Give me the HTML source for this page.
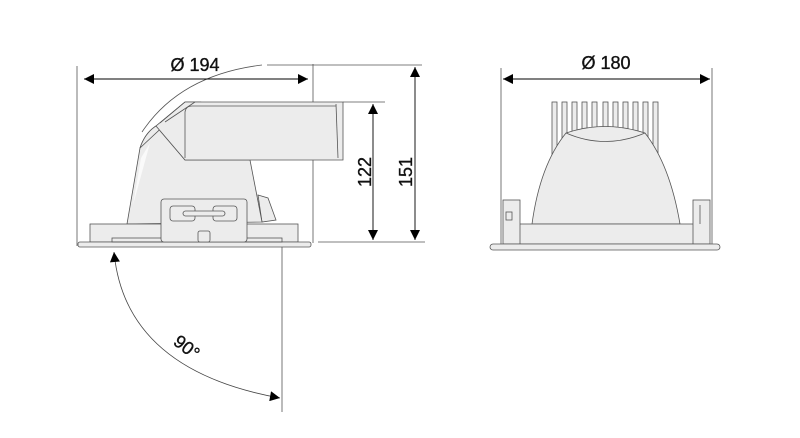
<!DOCTYPE html>
<html><head><meta charset="utf-8"><style>
html,body{margin:0;padding:0;background:#fff;}
svg{display:block;}
text{font-family:"Liberation Sans",sans-serif;font-size:18px;fill:#111;stroke:#111;stroke-width:0.35;}
</style></head><body>
<svg width="800" height="438" viewBox="0 0 800 438" xmlns="http://www.w3.org/2000/svg">
<defs>
<marker id="a" viewBox="0 0 10 10" refX="10" refY="5" markerWidth="15" markerHeight="10" markerUnits="userSpaceOnUse" orient="auto-start-reverse"><path d="M0,0L10,5L0,10z" fill="#000"/></marker>
</defs>
<g stroke="#555" stroke-width="0.8" fill="none">
<line x1="77" y1="66" x2="77" y2="246"/>
<line x1="313" y1="64" x2="313" y2="243"/>
<line x1="267" y1="65" x2="422" y2="65"/>
<line x1="343" y1="102" x2="385" y2="102"/>
<line x1="318" y1="242" x2="425" y2="242"/>
<line x1="282" y1="238" x2="282" y2="412"/>
</g>
<g fill="#ececec" stroke="#555" stroke-width="0.8">
<path d="M258,195 L268,198 L276,220 L262,222 Z"/>
<path d="M127,224 L140,148 Q145,133 156,126 L185,160 L250,160 L262,222 Z"/>
<path d="M140,148 Q145,133 156,126 L185,102 L200,102 L170,120 Z"/>
<path d="M156,126 L185,102 L343,102 L343,160 L185,160 Z"/>
<path d="M185,158 L185,112 Q186,106 192,106 L336,106" fill="none"/>
<line x1="160" y1="123" x2="185" y2="102"/>
<line x1="165" y1="122" x2="195" y2="102"/>
<path d="M336,104 L338,158" fill="none"/>
<rect x="90" y="224" width="208" height="18"/>
<rect x="78" y="242" width="233" height="5" rx="2"/>
<rect x="112" y="238" width="170" height="4" fill="none"/>
<rect x="161" y="199" width="86" height="43" rx="3"/>
<rect x="170" y="206" width="25" height="15" rx="3"/>
<rect x="213" y="206" width="24" height="15" rx="3"/>
<rect x="183" y="211" width="42" height="5" rx="2.5"/>
<rect x="198" y="231" width="12" height="11" rx="2"/>
</g>
<path d="M262,65 Q180,75 142,132" stroke="#555" stroke-width="0.8" fill="none"/>
<path d="M141,158 L150,143 L133,205 Z" fill="#fafafa"/>
<g stroke="#000" stroke-width="0.9">
<line x1="84" y1="79" x2="308" y2="79" marker-start="url(#a)" marker-end="url(#a)"/>
<line x1="373" y1="104" x2="373" y2="240" marker-start="url(#a)" marker-end="url(#a)"/>
<line x1="415" y1="67" x2="415" y2="240" marker-start="url(#a)" marker-end="url(#a)"/>
</g>
<path d="M114,252 Q125,370 280,398" stroke="#444" stroke-width="0.8" fill="none" marker-start="url(#a)" marker-end="url(#a)"/>
<text x="195" y="71" text-anchor="middle">Ø 194</text>
<text transform="translate(371,172) rotate(-90)" text-anchor="middle">122</text>
<text transform="translate(412,172) rotate(-90)" text-anchor="middle">151</text>
<text transform="translate(183,352) rotate(38)" text-anchor="middle">90°</text>

<g stroke="#555" stroke-width="0.8" fill="none">
<line x1="501" y1="68" x2="501" y2="245"/>
<line x1="712" y1="68" x2="712" y2="245"/>
</g>
<g fill="#ececec" stroke="#555" stroke-width="0.8">
<rect x="552" y="102" width="5" height="55"/><rect x="562" y="102" width="5" height="55"/>
<rect x="572" y="102" width="5" height="55"/><rect x="582" y="102" width="5" height="55"/>
<rect x="592" y="102" width="5" height="55"/><rect x="603" y="102" width="5" height="55"/>
<rect x="613" y="102" width="5" height="55"/><rect x="623" y="102" width="5" height="55"/>
<rect x="633" y="102" width="5" height="55"/><rect x="643" y="102" width="5" height="55"/>
<rect x="653" y="102" width="5" height="55"/>
<path d="M532,224 Q540,165 566,133 Q605,120 645,133 Q670,165 680,224 Z"/>
<path d="M566,133 Q605,150 645,133" fill="none"/>
<rect x="515" y="224" width="188" height="20"/>
<rect x="503" y="200" width="17" height="44"/>
<rect x="693" y="200" width="17" height="44"/>
<rect x="506" y="212" width="6" height="8" fill="none"/>
<line x1="700" y1="205" x2="700" y2="224"/>
<rect x="490" y="244" width="230" height="6" rx="3"/>
</g>
<line x1="503" y1="79" x2="710" y2="79" stroke="#000" stroke-width="0.9" marker-start="url(#a)" marker-end="url(#a)"/>
<text x="606" y="69" text-anchor="middle">Ø 180</text>
</svg>
</body></html>
